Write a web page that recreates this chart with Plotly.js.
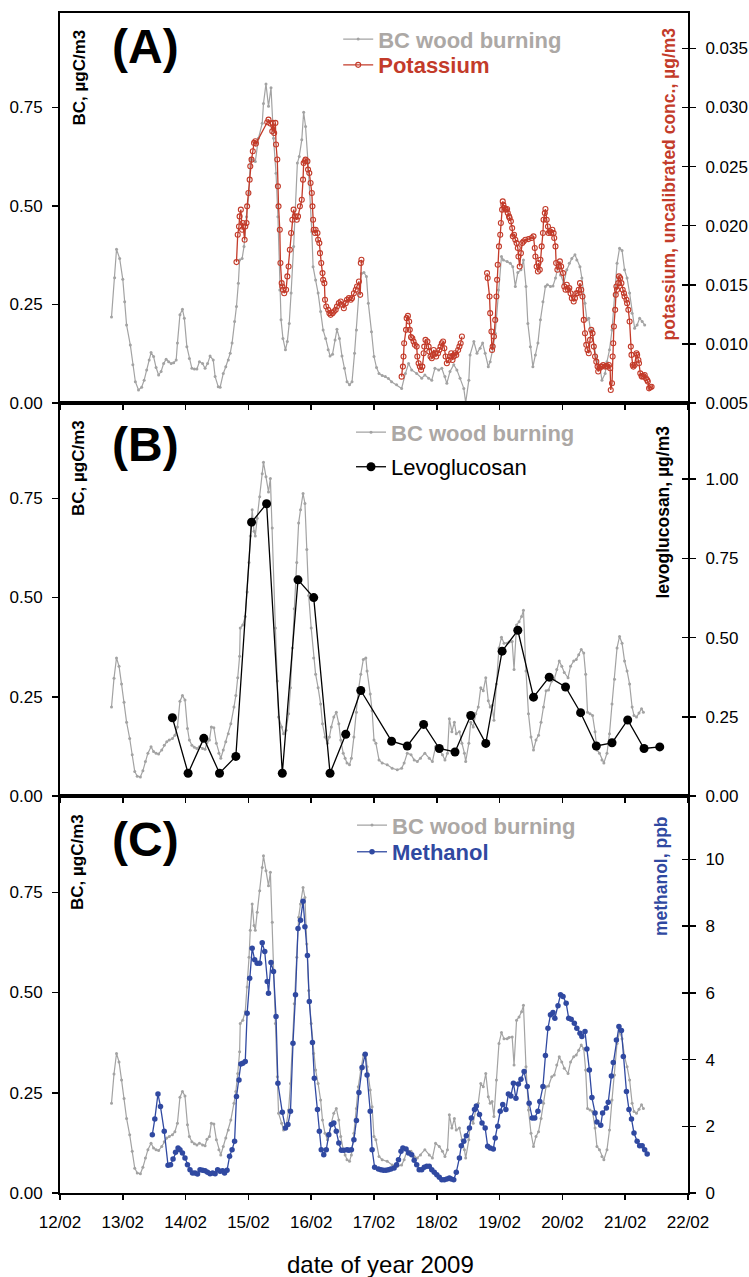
<!DOCTYPE html>
<html><head><meta charset="utf-8">
<script src="https://cdn.plot.ly/plotly-3.0.1.min.js"></script>
<style>html,body{margin:0;padding:0;background:#fff}#chart{width:749px;height:1277px}</style>
</head><body><div id="chart"></div>
<script>
// ---------- DATA (day of February 2009, fractional) ----------
const tickDays = [12,13,14,15,16,17,18,19,20,21,22];
const tickLabels = ['12/02','13/02','14/02','15/02','16/02','17/02','18/02','19/02','20/02','21/02','22/02'];

// BC wood burning, panel A (µgC/m3)
const bcA_day = [
12.82,12.87,12.90,12.95,13.00,13.03,13.06,13.12,13.16,13.20,
13.25,13.30,13.34,13.38,13.42,13.45,13.49,13.53,13.57,13.61,
13.65,13.69,13.73,13.77,13.81,13.85,13.87,13.91,13.95,13.98,
14.02,14.06,14.10,14.14,14.18,14.22,14.27,14.31,14.35,14.39,
14.44,14.47,14.52,14.55,14.60,14.64,14.68,14.71,14.74,14.78,
14.81,14.84,14.86,14.90,14.93,14.97,15.01,15.03,15.07,15.11,
15.16,15.22,15.24,15.28,15.32,15.36,15.40,15.44,15.47,15.50,
15.52,15.55,15.59,15.62,15.65,15.68,15.72,15.78,15.81,15.85,
15.88,15.91,15.95,16.01,16.03,16.07,16.11,16.15,16.19,16.23,
16.27,16.30,16.34,16.38,16.41,16.45,16.49,16.53,16.57,16.61,
16.65,16.69,16.72,16.76,16.80,16.84,16.88,16.91,16.96,17.00,
17.04,17.08,17.13,17.18,17.23,17.28,17.36,17.44,17.50,17.55,
17.60,17.68,17.76,17.81,17.87,17.92,17.97,18.03,18.08,18.13,
18.16,18.21,18.27,18.32,18.37,18.43,18.46,18.51,18.53,18.59,
18.64,18.69,18.73,18.77,18.82,18.85,18.90,18.93,18.98,19.03,
19.06,19.12,19.17,19.21,19.25,19.29,19.34,19.38,19.42,19.45,
19.49,19.53,19.57,19.61,19.65,19.69,19.73,19.76,19.81,19.85,
19.89,19.93,19.97,20.02,20.07,20.11,20.15,20.20,20.23,20.28,
20.31,20.36,20.39,20.42,20.45,20.47,20.51,20.55,20.60,20.63,
20.68,20.71,20.75,20.79,20.84,20.87,20.91,20.95,20.99,21.03,
21.07,21.11,21.15,21.19,21.23,21.27,21.31];
const bcA_val = [
.218,.318,.390,.367,.314,.257,.198,.147,.097,.054,
.033,.040,.058,.084,.109,.128,.118,.090,.071,.080,
.100,.111,.105,.100,.102,.109,.152,.224,.238,.215,
.143,.113,.088,.086,.086,.105,.100,.088,.100,.119,
.109,.067,.041,.040,.075,.092,.109,.126,.152,.207,
.245,.304,.363,.367,.397,.473,.533,.620,.617,.613,
.672,.710,.760,.810,.753,.800,.672,.583,.473,.287,
.211,.164,.135,.156,.202,.279,.397,.609,.626,.668,
.738,.702,.609,.435,.346,.312,.279,.232,.185,.164,
.135,.119,.124,.160,.187,.164,.119,.088,.054,.046,
.054,.126,.185,.279,.329,.331,.321,.253,.181,.118,
.090,.075,.070,.067,.062,.054,.046,.037,.075,.100,
.084,.075,.063,.071,.063,.058,.088,.084,.088,.067,
.050,.080,.097,.084,.063,.037,.001,.058,.122,.156,
.126,.139,.152,.126,.092,.105,.143,.177,.287,.372,
.363,.359,.355,.346,.296,.331,.338,.363,.296,.202,
.143,.092,.122,.152,.211,.257,.296,.300,.296,.297,
.317,.346,.325,.304,.338,.355,.367,.376,.363,.346,
.317,.253,.211,.215,.181,.185,.139,.109,.088,.058,
.075,.105,.135,.185,.279,.355,.393,.387,.338,.317,
.279,.228,.190,.198,.215,.207,.198];

// Potassium, uncalibrated conc. (µg/m3); null = gap in record
const k_day = [
14.81,14.83,14.85,14.86,14.88,14.90,14.91,14.94,14.95,14.97,
14.98,15.00,15.02,15.03,15.05,15.07,15.09,15.11,15.12,
15.30,15.32,15.35,15.38,15.39,15.41,15.43,15.44,15.46,15.47,
15.48,15.50,15.51,15.53,15.54,15.55,15.57,15.60,15.62,15.64,
15.66,15.68,15.70,15.72,15.74,15.77,15.79,15.82,15.85,15.87,
15.88,15.90,15.91,15.94,15.95,15.97,15.99,16.01,16.02,16.03,
16.04,16.06,16.07,16.10,16.11,16.13,16.14,16.16,16.18,16.19,
16.21,16.22,16.24,16.27,16.29,16.31,16.34,16.36,16.39,16.41,
16.44,16.47,16.49,16.52,16.55,16.57,16.60,16.63,16.65,16.68,
16.71,16.73,16.76,16.78,16.79,16.80,
17.10,
17.44,17.46,17.47,17.48,17.51,17.52,17.54,17.56,17.57,17.59,
17.61,17.63,17.65,17.68,17.69,17.71,17.73,17.75,17.77,17.79,
17.80,17.82,17.85,17.87,17.88,17.90,17.92,17.94,17.95,17.97,
17.99,18.02,18.04,18.06,18.08,18.10,18.12,18.14,18.16,18.19,
18.21,18.23,18.25,18.27,18.29,18.31,18.34,18.36,18.38,18.40,
18.60,
18.80,18.81,18.84,18.85,18.87,18.88,18.89,18.91,18.93,18.95,
18.96,18.97,18.99,19.01,19.02,19.04,19.05,19.06,19.08,19.10,
19.12,19.13,19.15,19.16,19.18,19.20,19.21,19.23,19.25,19.27,
19.29,19.30,19.32,19.34,19.36,19.38,19.41,19.46,19.51,19.54,
19.56,19.57,19.59,19.61,19.62,19.64,19.65,19.67,19.69,19.70,
19.72,19.73,19.75,19.77,19.78,19.80,19.82,19.84,19.86,19.87,
19.89,19.90,19.92,19.94,19.96,19.98,20.01,20.03,20.05,20.07,
20.09,20.11,20.13,20.15,20.18,20.20,20.22,20.24,20.26,20.28,
20.30,20.32,20.34,20.36,20.38,20.40,20.42,20.44,20.46,20.48,
20.50,20.52,20.54,20.56,20.57,20.59,20.61,20.63,20.65,20.68,
20.70,20.72,20.74,20.76,20.77,20.79,20.80,20.81,20.82,20.84,
20.85,20.86,20.87,20.89,20.90,20.92,20.94,20.96,20.98,20.99,
21.02,21.03,21.05,21.07,21.09,21.10,21.12,21.13,21.15,21.18,
21.19,21.21,21.22,21.24,21.26,21.27,21.29,21.31,21.33,21.35,
21.36,21.38,21.40,21.42];
const k_val = [
.01692,.01924,.01994,.02079,.02136,.01966,.02023,.01881,.01994,.02023,
.02164,.02277,.0239,.02503,.02559,.0263,.02701,.02715,.02695,
.02876,.02898,.02864,.028,.0287,.02785,.0287,.02687,.0256,.02333,
.02164,.01966,.01684,.01514,.01486,.01458,.01429,.01458,.01571,.01655,
.01797,.01938,.02051,.02136,.02079,.02051,.02079,.02164,.0222,.0239,
.02531,.02545,.02559,.02545,.02475,.02446,.02362,.02277,.02164,.02051,
.01966,.01938,.01966,.01938,.01881,.01853,.01768,.01684,.01599,.01542,
.01514,.01373,.01316,.01288,.0126,.01246,.0126,.01274,.01288,.01316,
.01345,.01359,.01331,.01302,.01345,.01373,.01387,.01373,.01387,.01429,
.01458,.01486,.01528,.01415,.01684,.01712,
null,
.00723,.00808,.00893,.01006,.01119,.01218,.01237,.01189,.01119,.01057,
.01048,.0102,.00992,.00977,.00893,.00836,.00808,.0078,.00808,.00921,
.00977,.01034,.0102,.00977,.00935,.00893,.00879,.00907,.00949,.00921,
.00893,.00921,.00949,.00977,.01006,.0102,.00963,.00893,.00836,.00864,
.00893,.00921,.00864,.00893,.00921,.00907,.00949,.00977,.01006,.01062,
null,
.01599,.01557,.01401,.0126,.01105,.00949,.00977,.01062,.01203,.01401,
.01542,.0167,.01825,.01924,.02023,.02136,.02206,.02178,.0215,.02136,
.02141,.02107,.02079,.02065,.02037,.0198,.0191,.01924,.01881,.01853,
.01811,.0174,.01655,.01768,.01853,.01867,.01881,.01887,.01896,.0191,
.01811,.0174,.01655,.01613,.01684,.01627,.01712,.01825,.01938,.02051,
.02107,.02141,.02051,.01994,.01938,.01952,.01938,.01966,.01938,.01896,
.01825,.01684,.01627,.01655,.01698,.01655,.01599,.01486,.01458,.015,
.01458,.01472,.01429,.01387,.01359,.01387,.01429,.01429,.01458,.01514,
.01458,.01401,.01203,.0109,.00992,.00949,.00921,.01034,.01119,.0109,
.00977,.00893,.0085,.00808,.00766,.00794,.00808,.00808,.00822,.00808,
.00814,.00808,.00822,.00794,.0061,.00667,.00893,.01006,.01147,.01288,
.01415,.01486,.01458,.01514,.01571,.01557,.01514,.01458,.01429,.01401,
.01373,.01345,.01288,.01189,.00977,.00907,.00822,.00808,.00822,.00921,
.00907,.00864,.00836,.00751,.00729,.00723,.00729,.00737,.00709,.00695,
.00681,.00624,.00633,.00638];

// BC wood burning, panels B and C (µgC/m3)
const bc_day = [
12.82,12.86,12.90,12.94,12.98,13.02,13.06,13.11,13.15,13.19,
13.23,13.28,13.32,13.36,13.40,13.45,13.49,13.53,13.57,13.62,
13.66,13.70,13.74,13.79,13.83,13.87,13.91,13.95,13.99,14.03,
14.06,14.10,14.14,14.18,14.22,14.27,14.31,14.34,14.38,14.41,
14.45,14.49,14.53,14.56,14.60,14.64,14.68,14.72,14.77,14.80,
14.83,14.86,14.87,14.91,14.95,14.98,15.01,15.03,15.06,15.09,
15.11,15.14,15.18,15.22,15.24,15.28,15.32,15.35,15.38,15.43,
15.46,15.48,15.53,15.56,15.60,15.64,15.67,15.70,15.73,15.77,
15.80,15.83,15.87,15.90,15.93,15.96,16.00,16.04,16.07,16.11,
16.15,16.18,16.22,16.26,16.29,16.32,16.36,16.40,16.44,16.47,
16.51,16.54,16.57,16.61,16.64,16.68,16.72,16.75,16.79,16.83,
16.87,16.89,16.94,16.97,17.00,17.03,17.08,17.13,17.21,17.29,
17.37,17.44,17.48,17.53,17.59,17.64,17.69,17.74,17.81,17.88,
17.93,17.98,18.04,18.09,18.13,18.17,18.20,18.24,18.28,18.31,
18.36,18.40,18.44,18.46,18.51,18.54,18.58,18.62,18.66,18.70,
18.74,18.78,18.82,18.85,18.88,18.91,18.95,18.99,19.03,19.07,
19.12,19.15,19.20,19.23,19.27,19.31,19.35,19.38,19.42,19.46,
19.50,19.54,19.58,19.62,19.66,19.70,19.74,19.78,19.83,19.87,
19.91,19.95,19.99,20.03,20.09,20.13,20.18,20.22,20.26,20.30,
20.34,20.37,20.40,20.44,20.48,20.52,20.55,20.59,20.63,20.66,
20.71,20.75,20.79,20.83,20.87,20.91,20.95,20.99,21.03,21.07,
21.11,21.14,21.18,21.22,21.26,21.29];
const bc_val = [
.224,.297,.348,.327,.282,.236,.186,.145,.104,.062,
.050,.048,.064,.087,.108,.124,.112,.108,.106,.116,
.128,.137,.141,.145,.153,.174,.239,.253,.242,.170,
.141,.128,.123,.120,.124,.120,.118,.134,.141,.174,
.172,.133,.108,.095,.116,.137,.157,.182,.224,.253,
.298,.352,.423,.431,.452,.514,.588,.655,.721,.667,
.655,.700,.754,.812,.841,.804,.766,.800,.675,.423,
.290,.199,.174,.157,.166,.207,.273,.373,.472,.588,
.688,.721,.762,.737,.621,.505,.423,.348,.307,.273,
.232,.182,.149,.133,.149,.174,.199,.211,.182,.141,
.108,.095,.083,.079,.095,.149,.211,.265,.307,.344,
.348,.315,.257,.215,.141,.133,.091,.083,.079,.070,
.066,.070,.083,.108,.104,.091,.087,.095,.108,.095,
.087,.124,.116,.104,.091,.108,.195,.162,.186,.157,
.162,.133,.108,.087,.133,.186,.174,.207,.224,.273,
.265,.298,.240,.224,.228,.191,.282,.373,.400,.385,
.385,.388,.389,.319,.431,.439,.452,.468,.315,.207,
.149,.116,.141,.153,.186,.224,.265,.267,.290,.294,
.319,.340,.327,.311,.298,.327,.340,.344,.356,.369,
.360,.307,.211,.207,.203,.162,.116,.108,.091,.083,
.108,.157,.232,.294,.373,.402,.385,.340,.315,.282,
.224,.203,.199,.209,.220,.211];

// Levoglucosan (µg/m3)
const levo_day = [13.79,14.04,14.29,14.54,14.80,15.05,15.29,15.54,15.79,16.04,
16.30,16.55,16.79,17.28,17.53,17.79,18.04,18.29,18.54,18.78,
19.04,19.29,19.54,19.79,20.05,20.29,20.54,20.79,21.04,21.30,21.55];
const levo_val = [0.247,0.072,0.182,0.072,0.125,0.864,0.922,0.072,0.682,0.626,
0.072,0.195,0.333,0.173,0.158,0.226,0.150,0.139,0.254,0.166,
0.457,0.523,0.312,0.375,0.344,0.263,0.158,0.168,0.240,0.150,0.155];

// Methanol (ppb)
const meoh_day = [
13.47,13.51,13.56,13.60,13.66,13.72,13.76,13.80,13.84,13.88,
13.91,13.95,13.99,14.03,14.07,14.11,14.15,14.19,14.23,14.27,
14.31,14.35,14.39,14.43,14.47,14.51,14.55,14.59,14.62,14.66,
14.70,14.74,14.78,14.81,14.85,14.88,14.91,14.95,14.98,15.02,
15.06,15.10,15.14,15.18,15.22,15.26,15.30,15.32,15.36,15.40,
15.44,15.47,15.54,15.59,15.63,15.67,15.71,15.75,15.79,15.83,
15.87,15.90,15.94,15.97,16.02,16.05,16.10,16.13,16.16,16.20,
16.24,16.28,16.32,16.36,16.40,16.44,16.48,16.52,16.57,16.60,
16.64,16.68,16.72,16.76,16.81,16.86,16.89,16.94,16.97,17.01,
17.07,17.11,17.15,17.19,17.23,17.27,17.32,17.36,17.39,17.43,
17.46,17.51,17.55,17.60,17.64,17.68,17.72,17.76,17.80,17.84,
17.88,17.92,17.96,18.00,18.04,18.08,18.12,18.16,18.20,18.23,
18.27,18.31,18.36,18.39,18.43,18.47,18.52,18.55,18.60,18.63,
18.68,18.72,18.77,18.81,18.85,18.90,18.93,18.97,19.01,19.05,
19.10,19.14,19.18,19.22,19.26,19.30,19.34,19.39,19.44,19.47,
19.52,19.56,19.61,19.64,19.69,19.73,19.77,19.81,19.85,19.88,
19.93,19.97,20.01,20.06,20.10,20.14,20.19,20.23,20.28,20.31,
20.36,20.39,20.43,20.47,20.52,20.55,20.61,20.64,20.70,20.73,
20.78,20.81,20.86,20.90,20.94,20.97,21.02,21.06,21.10,21.14,
21.19,21.23,21.27,21.31,21.35];
const meoh_val = [
1.75,2.22,2.97,2.59,1.85,0.83,0.85,1.02,1.22,1.35,
1.30,1.20,1.05,0.85,0.70,0.60,0.60,0.57,0.70,0.68,
0.67,0.62,0.58,0.60,0.58,0.70,0.65,0.67,0.60,0.68,
1.10,1.30,1.55,2.89,3.39,3.87,3.89,3.94,5.39,6.44,
7.34,6.99,6.89,6.89,7.50,7.24,6.34,5.99,6.91,6.64,
5.29,3.29,2.42,1.95,2.05,2.45,4.49,5.94,7.93,8.18,
8.75,7.98,7.12,5.74,4.51,3.44,2.50,1.85,1.30,1.15,
1.30,1.75,2.05,2.10,1.85,1.50,1.28,1.28,1.30,1.28,
1.30,1.60,2.17,3.01,3.76,4.16,3.54,2.45,1.30,0.77,
0.72,0.70,0.68,0.68,0.70,0.72,0.75,0.85,1.00,1.25,
1.35,1.32,1.20,1.15,0.98,0.85,0.70,0.70,0.77,0.80,
0.80,0.70,0.62,0.55,0.47,0.40,0.40,0.42,0.45,0.42,
0.40,0.62,1.05,1.42,1.55,1.72,1.95,2.25,2.50,2.61,
2.35,2.10,1.95,1.40,1.35,1.32,1.65,2.00,2.45,2.65,
2.50,2.97,2.91,3.29,2.84,3.27,3.41,3.64,3.19,2.69,
2.25,2.25,2.45,2.74,3.19,4.12,4.94,5.34,5.41,5.24,
5.61,5.94,5.89,5.69,5.24,5.21,5.09,4.94,4.79,4.69,
4.84,4.32,3.69,2.86,2.40,2.13,2.03,2.40,2.55,2.72,
3.51,3.91,4.59,4.99,4.87,4.09,3.04,2.50,2.22,1.80,
1.55,1.42,1.42,1.30,1.17];

// axis tick values
const bcTicks = [0, 0.25, 0.5, 0.75];
const kTicks = [0.005,0.010,0.015,0.020,0.025,0.030,0.035];
const levoTicks = [0, 0.25, 0.5, 0.75, 1.0];
const meohTicks = [0,2,4,6,8,10];

// ---------- STYLE ----------
const FONT = 'Liberation Sans, Arial, Helvetica, sans-serif';
const GREY = '#a3a3a3', GREYTXT = '#aca8a5', RED = '#c33b2a', BLUE = '#3049a1';

function bcTrace(xs, ys, xa, ya, lg){
  return {x: xs, y: ys, xaxis: xa, yaxis: ya, type:'scatter', mode:'lines+markers',
    line:{color:GREY, width:1.2}, marker:{color:GREY, size:3},
    name:'<b>BC wood burning</b>', legend: lg, hoverinfo:'skip'};
}
const traces = [
  bcTrace(bcA_day, bcA_val, 'x', 'y', 'legend'),
  {x:k_day, y:k_val, xaxis:'x', yaxis:'y2', type:'scatter', mode:'lines+markers',
    connectgaps:false, line:{color:RED, width:1.3},
    marker:{symbol:'circle-open', size:5, color:RED, line:{width:1.1, color:RED}},
    name:'<b><span style="color:'+RED+'">Potassium</span></b>', legend:'legend2'},
  bcTrace(bc_day, bc_val, 'x2', 'y3', 'legend3'),
  {x:levo_day, y:levo_val, xaxis:'x2', yaxis:'y4', type:'scatter', mode:'lines+markers',
    line:{color:'#000', width:1.3}, marker:{color:'#000', size:9},
    name:'<span style="color:#000">Levoglucosan</span>', legend:'legend4'},
  bcTrace(bc_day, bc_val, 'x3', 'y5', 'legend5'),
  {x:meoh_day, y:meoh_val, xaxis:'x3', yaxis:'y6', type:'scatter', mode:'lines+markers',
    line:{color:BLUE, width:1.3}, marker:{color:BLUE, size:5.5},
    name:'<b><span style="color:'+BLUE+'">Methanol</span></b>', legend:'legend6'},
  // empty helpers so the "inside" tick overlays get drawn (cross ticks on right axes)
  {x:[], y:[], xaxis:'x', yaxis:'y7', showlegend:false, type:'scatter'},
  {x:[], y:[], xaxis:'x2', yaxis:'y8', showlegend:false, type:'scatter'},
  {x:[], y:[], xaxis:'x3', yaxis:'y9', showlegend:false, type:'scatter'}
];

const domA = [0.6695, 1], domB = [0.3364, 0.6695], domC = [0, 0.3364];
function xax(anchor, labels){
  return {anchor, domain:[0,1], range:[12,22], tickvals:tickDays, ticktext:tickLabels,
    showticklabels: labels, ticks:'outside', ticklen:5, tickwidth:1.5, tickcolor:'#000',
    showline:true, linecolor:'#000', linewidth:2, mirror:true, showgrid:false, zeroline:false,
    ticklabelstandoff: 8, tickfont:{size:17, color:'#000', family:FONT}};
}
function yLeft(anchor, dom){
  return {anchor, domain:dom, range:[0,0.99], tickvals:bcTicks, tickformat:'.2f', side:'left',
    ticks:'outside', ticklen:6, tickwidth:1.5, tickcolor:'#000', showline:true, linecolor:'#000',
    linewidth:2, showgrid:false, zeroline:false, ticklabelstandoff:6,
    tickfont:{size:17, color:'#000', family:FONT}};
}
function yRight(anchor, over, range, tv, fmt){
  return {anchor, overlaying:over, side:'right', range, tickvals:tv, tickformat:fmt,
    ticks:'outside', ticklen:6, tickwidth:1.5, tickcolor:'#000', showline:true, linecolor:'#000',
    linewidth:2, showgrid:false, zeroline:false, ticklabelstandoff:6,
    tickfont:{size:17, color:'#000', family:FONT}};
}
function yCross(anchor, over, range, tv){
  return {anchor, overlaying:over, side:'right', range, tickvals:tv, showticklabels:false,
    ticks:'inside', ticklen:6, tickwidth:1.5, tickcolor:'#000', showline:false,
    showgrid:false, zeroline:false};
}
function ann(text, x, y, opts){
  return Object.assign({text, x, y, xref:'paper', yref:'paper', showarrow:false,
    xanchor:'center', yanchor:'middle'}, opts);
}
function leg(x, y){
  return {x, y, xanchor:'left', yanchor:'top', bgcolor:'rgba(0,0,0,0)',
    font:{family:FONT, size:22, color:GREYTXT}, itemwidth:30};
}
const titleFont = (c)=>({family:FONT, size:17.5, color:c});

const layout = {
  width:749, height:1277, margin:{l:60, r:61, t:13, b:84},
  paper_bgcolor:'#fff', plot_bgcolor:'#fff',
  font:{family:FONT, size:17, color:'#000'},
  showlegend:true,
  xaxis: xax('y', false),
  xaxis2: xax('y3', false),
  xaxis3: xax('y5', true),
  yaxis: yLeft('x', domA),
  yaxis2: yRight('x', 'y', [0.005, 0.038], kTicks, '.3f'),
  yaxis3: yLeft('x2', domB),
  yaxis4: yRight('x2', 'y3', [0, 1.24], levoTicks, '.2f'),
  yaxis5: yLeft('x3', domC),
  yaxis6: yRight('x3', 'y5', [0, 11.9], meohTicks, 'd'),
  yaxis7: yCross('x', 'y', [0.005, 0.038], kTicks),
  yaxis8: yCross('x2', 'y3', [0, 1.24], levoTicks),
  yaxis9: yCross('x3', 'y5', [0, 11.9], meohTicks),
  legend:  leg(0.443, 0.9955),
  legend2: leg(0.443, 0.9737),
  legend3: leg(0.4634, 0.6624),
  legend4: leg(0.4634, 0.6331),
  legend5: leg(0.465, 0.3294),
  legend6: leg(0.465, 0.3068),
  annotations: [
    ann('<b>(A)</b>', 0.1354, 0.9712, {font:{family:FONT, size:48, color:'#000'}}),
    ann('<b>(B)</b>', 0.1354, 0.6347, {font:{family:FONT, size:48, color:'#000'}}),
    ann('<b>(C)</b>', 0.1354, 0.2992, {font:{family:FONT, size:48, color:'#000'}}),
    ann('<b>BC, µgC/m3</b>', 0.0318, 0.9453, {textangle:-90, font:{family:FONT, size:17, color:'#000'}}),
    ann('<b>BC, µgC/m3</b>', 0.0287, 0.6144, {textangle:-90, font:{family:FONT, size:17, color:'#000'}}),
    ann('<b>BC, µgC/m3</b>', 0.0271, 0.2805, {textangle:-90, font:{family:FONT, size:17, color:'#000'}}),
    ann('<b>potassium, uncalibrated conc., µg/m3</b>', 0.9697, 0.8555, {textangle:-90, font:titleFont(RED)}),
    ann('<b>levoglucosan, µg/m3</b>', 0.961, 0.5771, {textangle:-90, font:titleFont('#000')}),
    ann('<b>methanol, ppb</b>', 0.957, 0.2686, {textangle:-90, font:titleFont(BLUE)}),
    ann('date of year 2009', 0.511, -0.061, {font:{family:FONT, size:24, color:'#000'}})
  ]
};

Plotly.newPlot('chart', traces, layout, {displayModeBar:false, staticPlot:true});
</script></body></html>
